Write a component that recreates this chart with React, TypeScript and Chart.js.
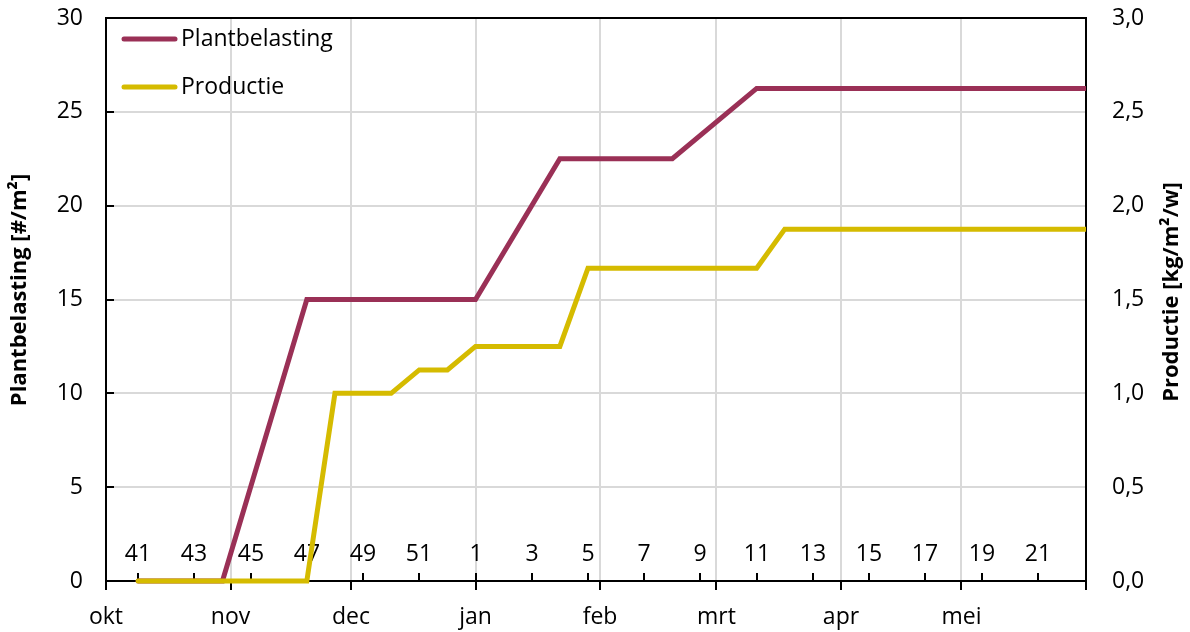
import { useEffect, useRef } from 'react';
import { Chart, registerables } from 'chart.js';

Chart.register(...registerables);

const FONT = '"Open Sans", "DejaVu Sans", sans-serif';
const FONT_SIZE = 23;
const TITLE_SIZE = 22;

// Season runs from 1 October 2023 to 1 June 2024; x is measured in days from the start.
const seasonStart = '2023-10-01';
const monthStarts = [
  '2023-10-01', '2023-11-01', '2023-12-01', '2024-01-01',
  '2024-02-01', '2024-03-01', '2024-04-01', '2024-05-01', '2024-06-01',
];
const monthLabels = ['okt', 'nov', 'dec', 'jan', 'feb', 'mrt', 'apr', 'mei', ''];

// Week numbers shown along the bottom of the plot
const weekLabels = [41, 43, 45, 47, 49, 51, 1, 3, 5, 7, 9, 11, 13, 15, 17, 19, 21];

// Plantbelasting [#/m²] by week
const plantWeeks = [41, 44, 47, 1, 4, 8, 11, 23];
const plantValues = [0, 0, 15, 15, 22.5, 22.5, 26.25, 26.25];

// Productie [kg/m²/w] by week
const prodWeeks = [41, 47, 48, 50, 51, 52, 1, 4, 5, 11, 12, 23];
const prodValues = [0, 0, 1.0, 1.0, 1.125, 1.125, 1.25, 1.25, 1.667, 1.667, 1.875, 1.875];

const PLANT_COLOR = '#9A3056';
const PROD_COLOR = '#D5BB00';
const GRID_COLOR = '#D9D9D9';

const DAY_MS = 86400000;
const dayOf = (iso: string) => (Date.parse(iso) - Date.parse(seasonStart)) / DAY_MS;

// ISO week -> day offset of its Monday (week 41 of 2023 starts 9 Oct, week 1 of 2024 on 1 Jan)
const weekToDay = (w: number) =>
  w >= 27 ? dayOf('2023-10-09') + (w - 41) * 7 : dayOf('2024-01-01') + (w - 1) * 7;

const monthDays = monthStarts.map(dayOf);

const noPadding = (s: any) => {
  s.paddingTop = 0;
  s.paddingBottom = 0;
  s.paddingLeft = 0;
  s.paddingRight = 0;
};

const decorations = {
  id: 'decorations',
  beforeDatasetsDraw(chart: any) {
    const { ctx, chartArea: a, scales } = chart;
    const x = scales.x;
    const y = scales.y;
    ctx.save();
    ctx.strokeStyle = '#000';
    ctx.lineWidth = 2;
    const seg = (x1: number, y1: number, x2: number, y2: number) => {
      ctx.beginPath();
      ctx.moveTo(x1, y1);
      ctx.lineTo(x2, y2);
      ctx.stroke();
    };
    // inward tick marks on the left value axis
    for (const t of y.ticks) {
      const py = Math.round(y.getPixelForValue(t.value));
      seg(a.left, py, a.left + 8, py);
    }
    // week tick marks and numbers
    ctx.font = `${FONT_SIZE}px ${FONT}`;
    ctx.fillStyle = '#000';
    ctx.textAlign = 'center';
    ctx.textBaseline = 'middle';
    for (const w of weekLabels) {
      const px = Math.round(x.getPixelForValue(weekToDay(w)));
      seg(px, a.bottom, px, a.bottom - 8);
      ctx.fillText(String(w), px, a.bottom - 27);
    }
    // frame line along the top of the plot
    seg(a.left - 1, a.top, a.right + 1, a.top);
    ctx.restore();
  },
  afterDraw(chart: any) {
    const { ctx, chartArea: a } = chart;
    ctx.save();
    // legend inside the plot, top-left
    ctx.font = `${FONT_SIZE}px ${FONT}`;
    ctx.textAlign = 'left';
    ctx.textBaseline = 'middle';
    const legendOrder = [0, 1];
    legendOrder.forEach((di, row) => {
      const ds = chart.data.datasets[di];
      const ly = a.top + 21 + row * 48;
      ctx.strokeStyle = ds.borderColor;
      ctx.lineWidth = 5;
      ctx.lineCap = 'round';
      ctx.beginPath();
      ctx.moveTo(a.left + 18, ly);
      ctx.lineTo(a.left + 69, ly);
      ctx.stroke();
      ctx.fillStyle = '#000';
      ctx.fillText(ds.label, a.left + 75, ly);
    });
    // axis titles, both reading bottom to top
    ctx.font = `bold ${TITLE_SIZE}px ${FONT}`;
    ctx.textAlign = 'center';
    ctx.fillStyle = '#000';
    const title = (text: string, cx: number, cy: number) => {
      ctx.save();
      ctx.translate(cx, cy);
      ctx.rotate(-Math.PI / 2);
      ctx.fillText(text, 0, 0);
      ctx.restore();
    };
    title('Plantbelasting [#/m²]', 20, 290);
    title('Productie [kg/m²/w]', 1172, 292);
    ctx.restore();
  },
};

export default function App() {
  const canvasRef = useRef<HTMLCanvasElement | null>(null);

  useEffect(() => {
    const canvas = canvasRef.current;
    if (!canvas) return;
    const tickFont = { family: FONT, size: FONT_SIZE };
    const chart = new Chart(canvas, {
      type: 'line',
      data: {
        datasets: [
          {
            label: 'Plantbelasting',
            data: plantWeeks.map((w, i) => ({ x: weekToDay(w), y: plantValues[i] })),
            yAxisID: 'y',
            borderColor: PLANT_COLOR,
            backgroundColor: PLANT_COLOR,
            borderWidth: 5,
            pointRadius: 0,
            tension: 0,
            borderCapStyle: 'round',
            order: 1,
            clip: { left: 4, top: 4, right: 0, bottom: 6 },
          },
          {
            label: 'Productie',
            data: prodWeeks.map((w, i) => ({ x: weekToDay(w), y: prodValues[i] })),
            yAxisID: 'y1',
            borderColor: PROD_COLOR,
            backgroundColor: PROD_COLOR,
            borderWidth: 5,
            pointRadius: 0,
            tension: 0,
            borderCapStyle: 'round',
            order: 0,
            clip: { left: 4, top: 4, right: 0, bottom: 6 },
          },
        ],
      },
      options: {
        responsive: false,
        animation: false,
        devicePixelRatio: 1,
        layout: { padding: { top: 18, left: 0, right: 0, bottom: 0 } },
        plugins: {
          legend: { display: false },
          tooltip: { enabled: false },
        },
        scales: {
          x: {
            type: 'linear',
            min: monthDays[0],
            max: monthDays[monthDays.length - 1],
            afterBuildTicks: (s: any) => {
              s.ticks = monthDays.map((v) => ({ value: v }));
            },
            afterFit: (s: any) => {
              noPadding(s);
              s.height = 51;
            },
            ticks: {
              autoSkip: false,
              maxRotation: 0,
              minRotation: 0,
              padding: 14,
              color: '#000',
              font: tickFont,
              callback: (_v: any, i: number) => monthLabels[i] ?? '',
            },
            grid: {
              color: GRID_COLOR,
              lineWidth: 2,
              tickColor: '#000',
              tickWidth: 2,
              tickLength: 9,
            },
            border: { color: '#000', width: 2 },
          },
          y: {
            position: 'left',
            min: 0,
            max: 30,
            afterFit: (s: any) => {
              noPadding(s);
              s.width = 106;
            },
            ticks: { stepSize: 5, padding: 23, color: '#000', font: tickFont },
            grid: { color: GRID_COLOR, lineWidth: 2, drawTicks: false },
            border: { color: '#000', width: 2 },
          },
          y1: {
            position: 'right',
            min: 0,
            max: 3,
            afterFit: (s: any) => {
              noPadding(s);
              s.width = 104;
            },
            ticks: {
              stepSize: 0.5,
              padding: 26,
              color: '#000',
              font: tickFont,
              callback: (v: any) => Number(v).toFixed(1).replace('.', ','),
            },
            grid: { display: false, drawTicks: false },
            border: { color: '#000', width: 2 },
          },
        },
      } as any,
      plugins: [decorations],
    });
    return () => chart.destroy();
  }, []);

  return (
    <div style={{ position: 'absolute', left: 0, top: 0, width: 1190, height: 632, background: '#fff' }}>
      <canvas ref={canvasRef} width={1190} height={632} style={{ display: 'block' }} />
    </div>
  );
}
